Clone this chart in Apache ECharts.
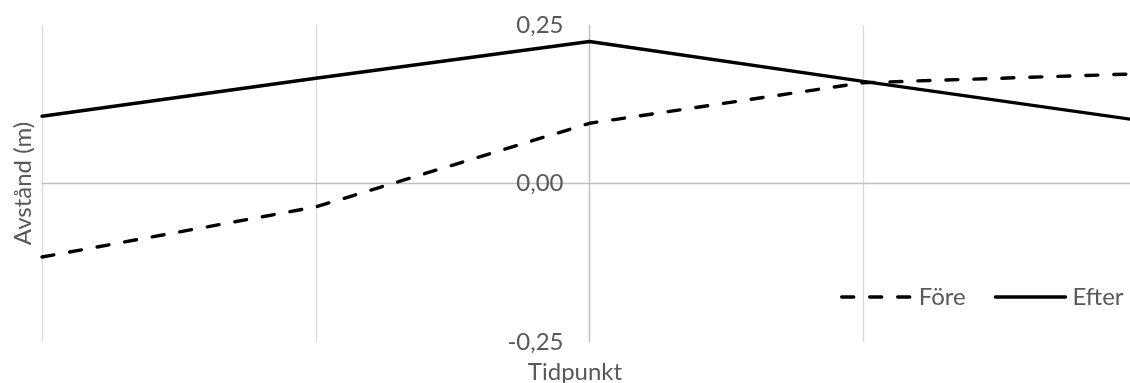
<!DOCTYPE html>
<html>
<head>
<meta charset="utf-8">
<script src="https://cdn.jsdelivr.net/npm/echarts@6/dist/echarts.min.js"></script>
<style>
  html, body { margin: 0; padding: 0; background: #fff; }
  #chart { width: 1130px; height: 383px; }
</style>
</head>
<body>
<div id="chart"></div>
<script>
// Time points on the horizontal axis (the distance axis crosses at 0)
const timePoints = [-2, -1, 0, 1, 2];
// Distance in metres for each time point
const foreValues = [-0.116, -0.037, 0.095, 0.159, 0.173];
const efterValues = [0.106, 0.166, 0.224, 0.161, 0.100];
const seriesNames = ['Före', 'Efter'];
// Value-axis ticks
const yTicks = [-0.25, 0, 0.25];

const FONT = 'Lato, "Open Sans", sans-serif';
const TEXT = '#595959';
const LINE_W = 3.4;

const GRID = { left: 42, right: -7, top: 25, bottom: 41 };
const CHART_W = 1130;

const toPairs = vals => timePoints.map((t, i) => [t, vals[i]]);

const chart = echarts.init(document.getElementById('chart'), null, { renderer: 'canvas' });

// The distance axis sits where time = 0, i.e. the middle of the plot.
const plotWidth = CHART_W - GRID.left - GRID.right;
const zeroShift = plotWidth * (0 - timePoints[0]) / (timePoints[timePoints.length - 1] - timePoints[0]);

chart.setOption({
  animation: false,
  backgroundColor: '#ffffff',
  grid: Object.assign({ containLabel: false, outerBoundsMode: 'none' }, GRID),
  xAxis: {
    type: 'value',
    min: timePoints[0],
    max: timePoints[timePoints.length - 1],
    interval: 1,
    axisLine: { show: true, onZero: true, lineStyle: { color: '#bfbfbf', width: 1.3 } },
    axisTick: { show: false },
    axisLabel: { show: false },
    splitLine: { show: true, lineStyle: { color: '#d9d9d9', width: 1.3 } }
  },
  yAxis: {
    type: 'value',
    position: 'left',
    offset: -zeroShift,
    min: yTicks[0],
    max: yTicks[yTicks.length - 1],
    interval: 0.25,
    axisLine: { show: true, onZero: false, lineStyle: { color: '#bfbfbf', width: 1.3 } },
    axisTick: { show: false },
    splitLine: { show: false },
    axisLabel: {
      color: TEXT,
      fontFamily: FONT,
      fontSize: 24,
      margin: 26,
      formatter: v => v.toFixed(2).replace('.', ',')
    }
  },
  legend: {
    data: seriesNames,
    orient: 'horizontal',
    left: 840,
    top: 285,
    width: 300,
    padding: 0,
    itemWidth: 70,
    itemHeight: 2,
    itemGap: 28,
    itemStyle: { opacity: 0, borderWidth: 0 },
    lineStyle: { width: LINE_W },
    textStyle: { color: TEXT, fontFamily: FONT, fontSize: 24, padding: [0, 0, 0, 2] }
  },
  graphic: [
    {
      type: 'text',
      x: 23, y: 183.5,
      rotation: Math.PI / 2,
      style: {
        text: 'Avstånd (m)',
        fill: TEXT,
        font: '24px ' + FONT,
        align: 'center',
        verticalAlign: 'middle'
      }
    },
    {
      type: 'text',
      x: 575, y: 372,
      style: {
        text: 'Tidpunkt',
        fill: TEXT,
        font: '24px ' + FONT,
        align: 'center',
        verticalAlign: 'middle'
      }
    }
  ],
  series: [
    {
      name: seriesNames[0],
      type: 'line',
      data: toPairs(foreValues),
      symbol: 'none',
      itemStyle: { color: '#000' },
      lineStyle: { color: '#000', width: LINE_W, type: [12, 16], cap: 'round' }
    },
    {
      name: seriesNames[1],
      type: 'line',
      data: toPairs(efterValues),
      symbol: 'none',
      itemStyle: { color: '#000' },
      lineStyle: { color: '#000', width: LINE_W, type: 'solid', cap: 'round' }
    }
  ]
});
</script>
</body>
</html>
